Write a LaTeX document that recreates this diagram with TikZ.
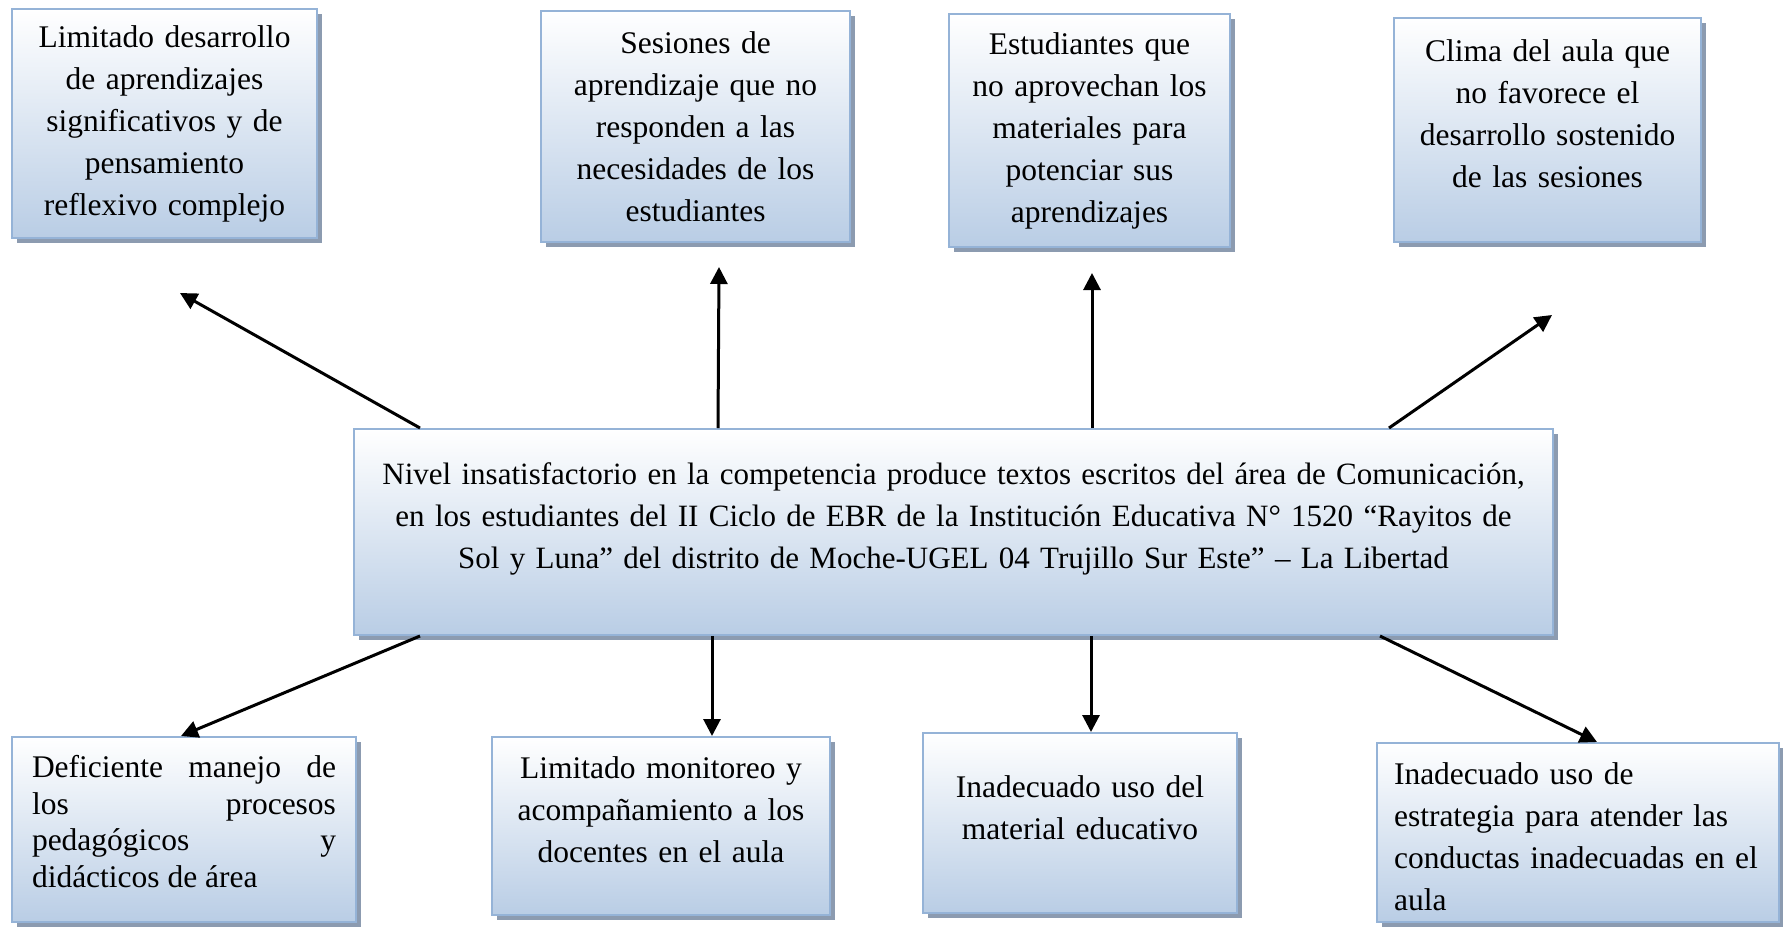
\documentclass[tikz,border=0pt]{standalone}
\usepackage{fontspec}
\setmainfont{Liberation Serif}
\usetikzlibrary{arrows.meta, positioning, shadows}
\definecolor{bordeazul}{HTML}{95B3D7}
\definecolor{fondoazul}{HTML}{B9CDE5}
\definecolor{sombragris}{HTML}{8C9BB0}

\begin{document}
\begin{tikzpicture}[
  x=1pt, y=-1pt,
  caja/.style={rectangle, draw=bordeazul, line width=2pt, top color=white, bottom color=fondoazul, inner xsep=10pt, inner ysep=2pt, align=center, font=\fontsize{31.5}{42}\selectfont, drop shadow={shadow xshift=5pt, shadow yshift=-5pt, fill=sombragris, opacity=1}},
  subir/.style={execute at end node={\vspace*{#1}}},
  flecha/.style={line width=3pt, -{Triangle[length=17pt, width=17pt]}},
]
\useasboundingbox (0,0) rectangle (1783,929);

% Consecuencias
\node[caja, text width=285pt, minimum height=229pt] (b1) at (164.5,123.5) {Limitado desarrollo\\ de aprendizajes\\ significativos y de\\ pensamiento\\ reflexivo complejo};
\node[caja, text width=289pt, minimum height=231pt] (b2) at (695.5,126.5) {Sesiones de\\ aprendizaje que no\\ responden a las\\ necesidades de los\\ estudiantes};
\node[caja, text width=261pt, minimum height=233pt] (b3) at (1089.5,130.5) {Estudiantes que\\ no aprovechan los\\ materiales para\\ potenciar sus\\ aprendizajes};
\node[caja, subir=32pt, text width=287pt, minimum height=224pt] (b4) at (1547.5,130) {Clima del aula que\\ no favorece el\\ desarrollo sostenido\\ de las sesiones};

% Problema central
\node[caja, subir=27pt, font=\fontsize{31}{42}\selectfont, inner xsep=4pt, text width=1191pt, minimum height=206pt] (c) at (953.5,532) {Nivel insatisfactorio en la competencia produce textos escritos del área de Comunicación,\\ en los estudiantes del II Ciclo de EBR de la Institución Educativa N° 1520 “Rayitos de\\ Sol y Luna” del distrito de Moche-UGEL 04 Trujillo Sur Este” – La Libertad};

% Causas
\node[caja, subir=16pt, align=justify, font=\fontsize{31.5}{36.5}\selectfont, inner xsep=20pt, text width=304pt, minimum height=185pt] (d1) at (184,829.5) {Deficiente manejo de\linebreak los procesos\linebreak pedagógicos y\linebreak didácticos de área};
\node[caja, subir=32pt, text width=318pt, minimum height=178pt] (d2) at (661,826) {Limitado monitoreo y\\ acompañamiento a los\\ docentes en el aula};
\node[caja, subir=30pt, text width=294pt, minimum height=180pt] (d3) at (1080,823) {Inadecuado uso del\\ material educativo};
\node[caja, subir=-9pt, align=left, inner xsep=17pt, text width=368pt, minimum height=179pt] (d4) at (1578,832.5) {Inadecuado uso de\\ estrategia para atender las\\ conductas inadecuadas en el\\ aula};

% Puntas libres
\coordinate (t1) at (180,293);
\coordinate (t2) at (719,267);
\coordinate (t3) at (1092,273);
\coordinate (t4) at (1552,315);

% Flechas
\draw[flecha] ([xshift=67pt]c.north west) -- (t1);
\draw[flecha] ([xshift=365pt]c.north west) -- (t2);
\draw[flecha] ([xshift=739pt]c.north west) -- (t3);
\draw[flecha] ([xshift=1036pt]c.north west) -- (t4);
\draw[flecha] ([xshift=67pt]c.south west) -- ([xshift=170pt]d1.north west);
\draw[flecha] ([xshift=359pt]c.south west) -- ([xshift=221pt]d2.north west);
\draw[flecha] ([xshift=738pt]c.south west) -- ([xshift=169pt]d3.north west);
\draw[flecha] ([xshift=1027pt]c.south west) -- ([xshift=221pt]d4.north west);

\end{tikzpicture}
\end{document}
